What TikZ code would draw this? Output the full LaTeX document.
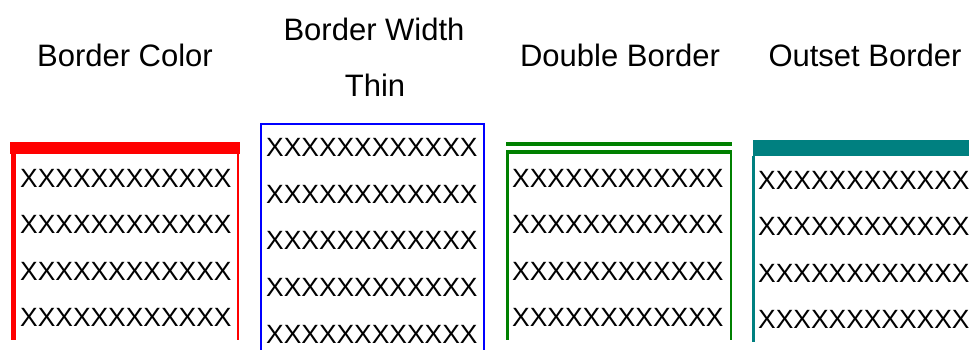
\documentclass[tikz,border=0pt]{standalone}
\usepackage{fontspec}
\setmainfont{Liberation Sans}
\definecolor{bordred}{HTML}{FF0000}
\definecolor{bordblue}{HTML}{0000FF}
\definecolor{bordgreen}{HTML}{008000}
\definecolor{bordteal}{HTML}{008080}
\tikzset{
  title/.style={inner sep=0pt, anchor=base, font=\fontsize{31}{37}\selectfont},
  xrow/.style={inner sep=0pt, anchor=base west, font=\fontsize{26.4}{30}\selectfont}
}
\begin{document}
\begin{tikzpicture}[x=1pt, y=-1pt]
\clip (0,0) rectangle (969,350);
\fill[white] (0,0) rectangle (969,350);

% border color
\node[title] (t1) at (125,67) {Border Color};
\fill[bordred] (10,142) rectangle (240,154);
\fill[bordred] (11,154) rectangle (16,340);
\fill[bordred] (237,154) rectangle (239,340);
\node[xrow] (r11) at (20,187) {XXXXXXXXXXXX};
\node[xrow] (r12) at (20,233.5) {XXXXXXXXXXXX};
\node[xrow] (r13) at (20,280) {XXXXXXXXXXXX};
\node[xrow] (r14) at (20,326.5) {XXXXXXXXXXXX};

% border width
\node[title] (t2) at (374,41) {Border Width};
\node[title] (t2b) at (375,96.5) {Thin};
\draw[bordblue, line width=1.5] (261,124) rectangle (484,360);
\node[xrow] (r21) at (266,156.5) {XXXXXXXXXXXX};
\node[xrow] (r22) at (266,203) {XXXXXXXXXXXX};
\node[xrow] (r23) at (266,249.5) {XXXXXXXXXXXX};
\node[xrow] (r24) at (266,296.5) {XXXXXXXXXXXX};
\node[xrow] (r25) at (266,343) {XXXXXXXXXXXX};

% double border
\node[title] (t3) at (620,67) {Double Border};
\fill[bordgreen] (506,142) rectangle (732,146);
\fill[bordgreen] (506,150) rectangle (732,154);
\fill[bordgreen] (506,154) rectangle (509,340);
\fill[bordgreen] (730,154) rectangle (732,340);
\node[xrow] (r31) at (512,187) {XXXXXXXXXXXX};
\node[xrow] (r32) at (512,233.5) {XXXXXXXXXXXX};
\node[xrow] (r33) at (512,280) {XXXXXXXXXXXX};
\node[xrow] (r34) at (512,326.5) {XXXXXXXXXXXX};

% outset border
\node[title] (t4) at (865,67) {Outset Border};
\fill[bordteal] (753,140) rectangle (975,156);
\fill[bordteal] (752,156) rectangle (755,342);
\node[xrow] (r41) at (758,189) {XXXXXXXXXXXX};
\node[xrow] (r42) at (758,235.5) {XXXXXXXXXXXX};
\node[xrow] (r43) at (758,282) {XXXXXXXXXXXX};
\node[xrow] (r44) at (758,328.5) {XXXXXXXXXXXX};

\end{tikzpicture}
\end{document}
